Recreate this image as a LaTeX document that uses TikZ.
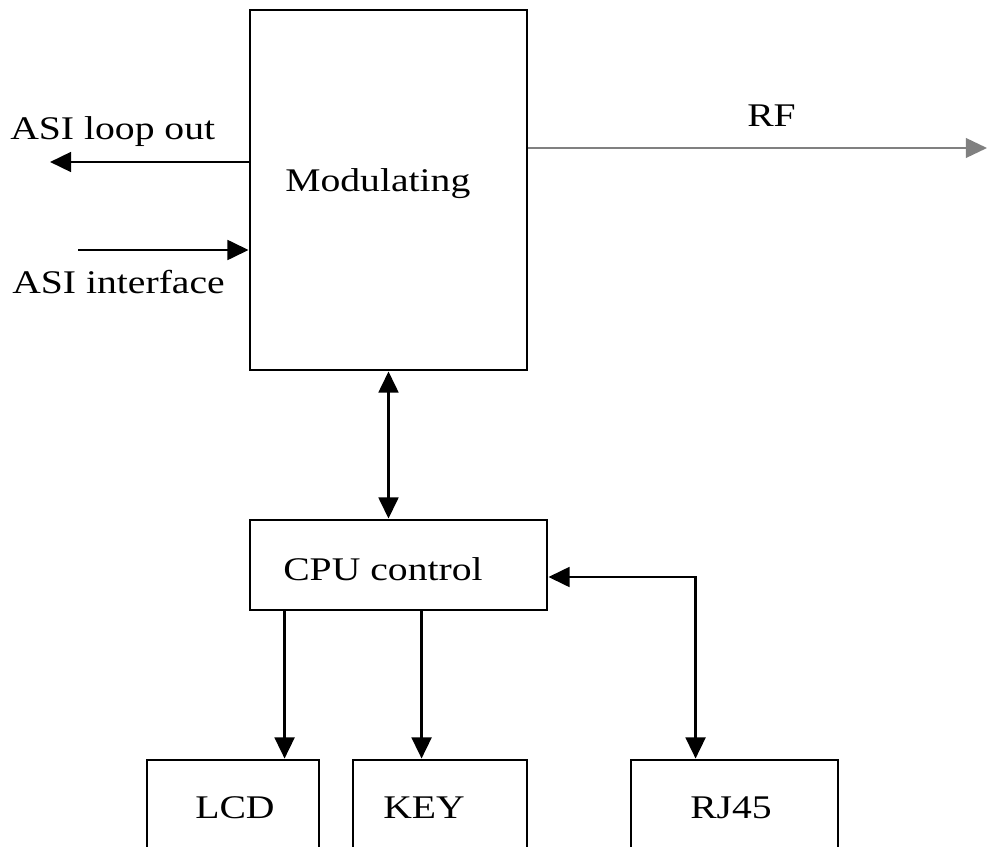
\documentclass[tikz,border=0pt]{standalone}
\usepackage{fontspec}
\setmainfont[FakeStretch=1.2]{Liberation Serif}
\usetikzlibrary{arrows.meta,calc}
\tikzset{
  block/.style={draw,line width=2pt,inner sep=0pt},
  txt/.style={anchor=base west,inner sep=0pt,font=\fontsize{23.5}{28}\selectfont},
  sig/.style={line width=2pt,-{Triangle[length=15pt,width=14pt]}},
  both/.style={{Triangle[length=15pt,width=14pt]}-{Triangle[length=15pt,width=14pt]}},
}
\begin{document}
\begin{tikzpicture}[x=0.025cm,y=-0.025cm]
\useasboundingbox (0,0) rectangle (987,847);
\clip (0,0) rectangle (987,847);
% blocks
\node[block,minimum width=6.925cm,minimum height=9cm] (mod) at (388.5,190) {};
\node[block,minimum width=7.425cm,minimum height=2.25cm] (cpu) at (398.5,565) {};
\node[block,minimum width=4.3cm,minimum height=3cm] (lcd) at (233,820) {};
\node[block,minimum width=4.35cm,minimum height=3cm] (key) at (440,820) {};
\node[block,minimum width=5.175cm,minimum height=3cm] (rj) at (734.5,820) {};
% texts
\node[txt] (modtxt) at (285,192) {Modulating};
\node[txt] (cputxt) at (283,580) {CPU control};
\node[txt] (lcdtxt) at (195,818) {LCD};
\node[txt] (keytxt) at (383,818) {KEY};
\node[txt] (rjtxt) at (690,818) {RJ45};
\node[txt] (outtxt) at (10,140) {ASI loop out};
\node[txt] (intxt) at (12,293) {ASI interface};
\node[txt] (rftxt) at (747,127) {RF};
% free ends and entry points
\coordinate (loopout) at (50,162);
\coordinate (asiin) at (78,250);
\coordinate (rfout) at (987,148);
\coordinate (lcdin) at ($(lcd.north west)+(139,0)$);
\coordinate (keyin) at ($(key.north west)+(70,0)$);
\coordinate (rjin) at ($(rj.north west)+(66,0)$);
% connectors
\draw[sig] (mod.west |- loopout) -- (loopout);
\draw[sig] (asiin) -- (asiin -| mod.west);
\draw[sig,gray,line width=1.3pt] (mod.east |- rfout) -- (rfout);
\draw[sig,both] (mod.south) -- (mod.south |- cpu.north);
\draw[sig] (cpu.south -| lcdin) -- (lcdin);
\draw[sig] (cpu.south -| keyin) -- (keyin);
\draw[sig,both] ($(cpu.east)+(0,12)$) -| (rjin);
\end{tikzpicture}
\end{document}
